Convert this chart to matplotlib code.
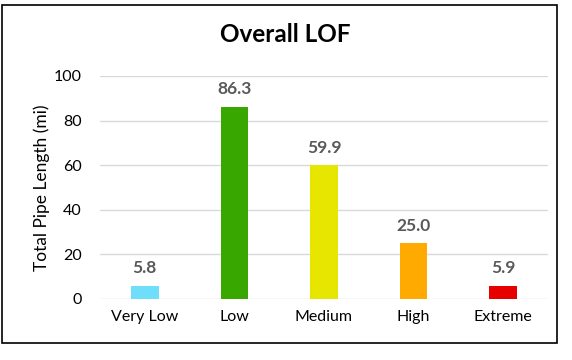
import numpy as np
import matplotlib.pyplot as plt
from matplotlib.patches import Rectangle

categories = ["Very Low", "Low", "Medium", "High", "Extreme"]
lengths = [5.8, 86.3, 59.9, 25.0, 5.9]
colors = ["#6FDEFA", "#38A800", "#E6E600", "#FFAA00", "#E60000"]

plt.rcParams['font.family'] = ['Lato', 'DejaVu Sans']

fig = plt.figure(figsize=(5.72, 3.6), dpi=100)
ax = fig.add_axes([100 / 572, 61 / 360, 448 / 572, 223 / 360])

x = np.arange(len(categories))
bars = ax.bar(x, lengths, width=0.31, color=colors, zorder=3)

for xi, v in zip(x, lengths):
    ax.annotate(f"{v:.1f}", (xi, v), xytext=(0, 7), textcoords="offset points",
                ha="center", va="bottom", fontsize=12.5, fontweight="bold",
                color="#595959")

# layout
ax.set_xlim(-0.5, 4.5)
ax.set_ylim(0, 100)
ax.set_yticks(range(0, 101, 20))
ax.set_xticks(x)
ax.set_xticklabels(categories)
ax.grid(axis="y", color="#D9D9D9", linewidth=1, zorder=0)
for s in ax.spines.values():
    s.set_visible(False)
ax.tick_params(length=0, labelsize=11.5, colors="black", pad=8)
ax.tick_params(axis="y", pad=13)
ax.set_ylabel("Total Pipe Length (mi)", fontsize=12.5, labelpad=3)

fig.text(285 / 572, 1 - 35 / 360, "Overall LOF", ha="center", va="center",
         fontsize=17.5, fontweight="bold")

fig.patches.append(Rectangle((2 / 572, 1 - 343 / 360), 555 / 572, 338 / 360,
                             transform=fig.transFigure, fill=False,
                             edgecolor="black", linewidth=1.2))

plt.savefig("out.png", dpi=100)
